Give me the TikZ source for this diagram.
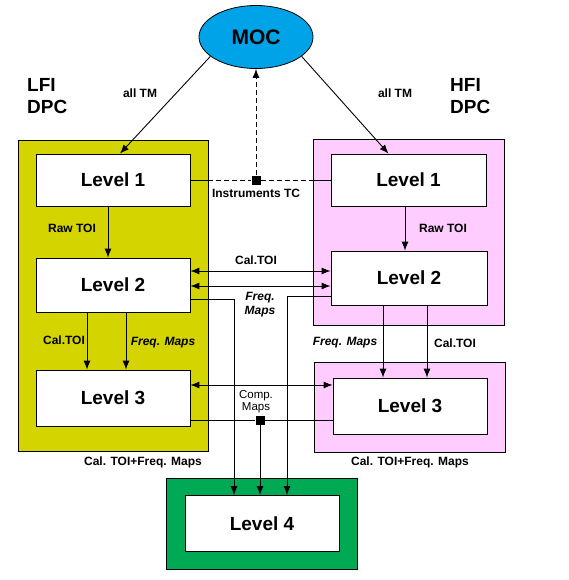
\documentclass[tikz,border=0pt]{standalone}
\usepackage{fontspec}
\setmainfont{Liberation Sans}
\usepackage{xcolor}
\usetikzlibrary{arrows.meta, positioning, calc, shapes.geometric}

\definecolor{lfiyellow}{RGB}{212,212,0}
\definecolor{hfipink}{RGB}{255,204,255}
\definecolor{lvlgreen}{RGB}{0,170,85}
\definecolor{moccyan}{RGB}{0,162,232}

\tikzset{
  frame/.style={draw=black, line width=0.8pt, inner sep=0pt},
  levelbox/.style={draw=black, line width=0.8pt, fill=white, minimum width=154pt,
    inner sep=0pt, font=\fontsize{19}{21}\selectfont\bfseries},
  lbl/.style={font=\fontsize{12}{13}\selectfont\bfseries, inner sep=1pt},
  ilbl/.style={font=\fontsize{12}{14}\selectfont\bfseries\itshape, inner sep=1pt, align=center},
  dpc/.style={font=\fontsize{19}{22}\selectfont\bfseries, align=left, inner sep=0pt},
  flow/.style={line width=0.9pt, -{Latex[length=9pt,width=7pt]}},
  both/.style={line width=0.9pt, {Latex[length=9pt,width=7pt]}-{Latex[length=9pt,width=7pt]}},
  junction/.style={fill=black, minimum size=9pt, inner sep=0pt}
}

\begin{document}
\begin{tikzpicture}[x=1pt, y=-1pt]
\useasboundingbox (0,0) rectangle (569,580);

% frames
\node[frame, fill=lfiyellow, minimum width=190pt, minimum height=311pt] (lfi) at (113,295.5) {};
\node[frame, fill=hfipink, minimum width=191pt, minimum height=186pt] (hfiup) at (408.5,232.5) {};
\node[frame, fill=hfipink, minimum width=191pt, minimum height=90pt] (hfilow) at (409.5,407) {};
\node[frame, fill=lvlgreen, minimum width=191pt, minimum height=91pt] (green) at (261.5,523.5) {};

% levels
\node[levelbox, minimum height=52pt] (lI) at (113,180) {Level 1};
\node[levelbox, minimum height=54pt] (lII) at (113,285) {Level 2};
\node[levelbox, minimum height=56pt] (lIII) at (113,398) {Level 3};
\node[levelbox, minimum width=155pt, minimum height=52pt] (rI) at (408.5,180) {Level 1};
\node[levelbox, minimum width=156pt, minimum height=54pt] (rII) at (409,278) {Level 2};
\node[levelbox, minimum height=56pt] (rIII) at (410,406) {Level 3};
\node[levelbox, minimum height=56pt] (lIV) at (262,523.5) {Level 4};

\node[draw=black, line width=0.8pt, fill=moccyan, ellipse, minimum width=114pt, minimum height=63pt,
  font=\fontsize{21}{23}\selectfont\bfseries] (moc) at (256,37) {MOC};

\node[dpc, anchor=north west] (lfiname) at (27,78) {LFI\\DPC};
\node[dpc, anchor=north west] (hfiname) at (450,78) {HFI\\DPC};

% MOC links
\draw[flow] (moc.203) -- ([xshift=7pt]lI.north);
\node[lbl] (tmleft) at (140,93) {all TM};
\draw[flow] (moc.-23) -- ([xshift=-20pt]rI.north);
\node[lbl] (tmright) at (395,93) {all TM};

\node[junction] (tcsq) at (256,180) {};
\node[lbl, below=3pt of tcsq] (tclbl) {Instruments TC};
\draw[line width=0.9pt] (lI.east) -- (lI.east -| lfi.east);
\draw[line width=0.9pt, dash pattern=on 5pt off 3pt] (lI.east -| lfi.east) -- (tcsq);
\draw[line width=0.9pt, dash pattern=on 5pt off 3pt] (tcsq) -- (rI.west -| hfiup.west);
\draw[line width=0.9pt] (rI.west -| hfiup.west) -- (rI.west);
\draw[flow, dash pattern=on 5pt off 3pt] (tcsq) -- (moc.south);

% level 1 -> level 2
\draw[flow] ([xshift=-5pt]lI.south) -- ([xshift=-5pt]lI.south |- lII.north);
\node[lbl] (rawl) at (72,228) {Raw TOI};
\draw[flow] ([xshift=-3.5pt]rI.south) -- ([xshift=-3.5pt]rI.south |- rII.north);
\node[lbl] (rawr) at (443,228) {Raw TOI};

% level 2 exchange
\draw[both] (lII.east |- 0,271) -- (rII.west |- 0,271);
\draw[both] (lII.east |- 0,286) -- (rII.west |- 0,286);
\node[lbl] (caltoi) at (256,260) {Cal.TOI};
\node[ilbl] (freqmaps) at (260,305) {Freq.\\Maps};

% level 2 -> level 4
\draw[flow] (lII.east |- 0,299) -| ([xshift=-28pt]lIV.north);
\draw[flow] (rII.west |- 0,296) -| ([xshift=25pt]lIV.north);

% level 2 -> level 3
\draw[flow] ([xshift=-26pt]lII.south) -- ([xshift=-26pt]lII.south |- lIII.north);
\draw[flow] ([xshift=13pt]lII.south) -- ([xshift=13pt]lII.south |- lIII.north);
\node[lbl] (calleft) at (64,340) {Cal.TOI};
\node[ilbl] (freqleft) at (163,343) {Freq. Maps};
\draw[flow] ([xshift=-26pt]rII.south) -- ([xshift=-26pt]rII.south |- rIII.north);
\draw[flow] ([xshift=18pt]rII.south) -- ([xshift=18pt]rII.south |- rIII.north);
\node[ilbl] (freqright) at (345,343) {Freq. Maps};
\node[lbl] (calright) at (455,343) {Cal.TOI};

% level 3 exchange
\draw[both] (lIII.east |- 0,385) -- (rIII.west |- 0,385);
\node[junction] (cmsq) at (260,420) {};
\draw[line width=0.9pt] (lIII.east |- cmsq) -- (cmsq) -- (rIII.west |- cmsq);
\node[font=\fontsize{11.5}{12}\selectfont, align=center, inner sep=1pt] (complbl) at (256,402) {Comp.\\Maps};
\draw[flow] (cmsq) -- (cmsq |- lIV.north);

\node[lbl] (sumleft) at (143,462) {Cal. TOI+Freq. Maps};
\node[lbl] (sumright) at (410,462) {Cal. TOI+Freq. Maps};
\end{tikzpicture}
\end{document}
